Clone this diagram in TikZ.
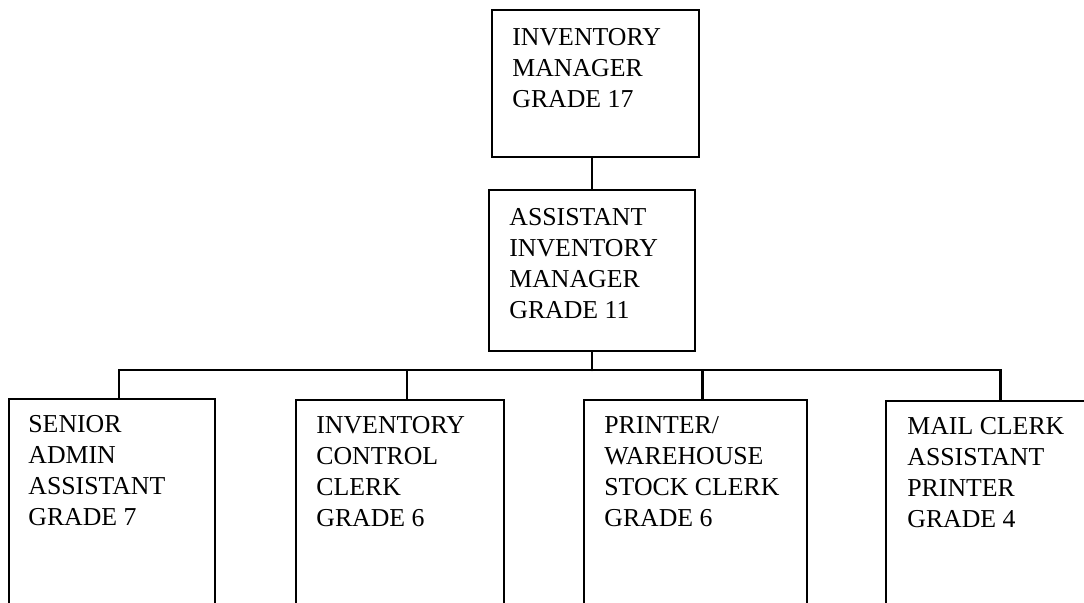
\documentclass[tikz,border=0pt]{standalone}
\usepackage{fontspec}
\setmainfont{Liberation Serif}
\usetikzlibrary{positioning,calc}

\begin{document}
\begin{tikzpicture}[
    x=0.5pt, y=-0.5pt,
    posbox/.style={draw, line width=1.1pt, anchor=north west, inner sep=0pt},
    postext/.style={anchor=north west, inner sep=0pt, align=left,
                    font=\fontsize{12.9}{15.5}\selectfont},
    conn/.style={line width=1.3pt, line cap=round}
]
\clip (0,0) rectangle (1084,602);
% top two levels
\node[posbox, minimum width=103.5pt, minimum height=73.5pt] (mgr) at (491,9) {};
\node[posbox, minimum width=103pt, minimum height=80.5pt] (asst) at (488,189) {};
\node[postext] (mgrtxt) at ($(mgr.north west)+(21,19)$) {INVENTORY\\MANAGER\\GRADE 17};
\node[postext] (assttxt) at ($(asst.north west)+(21,19)$) {ASSISTANT\\INVENTORY\\MANAGER\\GRADE 11};
% bottom level, boxes run off the page
\node[posbox, minimum width=103pt, minimum height=120pt] (admin) at (8,398) {};
\node[posbox, minimum width=104pt, minimum height=120pt] (ctrl) at (295,399) {};
\node[posbox, minimum width=111.5pt, minimum height=120pt] (stock) at (583,399) {};
\node[posbox, minimum width=107.5pt, minimum height=120pt] (mail) at (885,400) {};
\node[postext] (admintxt) at ($(admin.north west)+(20,17)$) {SENIOR\\ADMIN\\ASSISTANT\\GRADE 7};
\node[postext] (ctrltxt) at ($(ctrl.north west)+(21,17)$) {INVENTORY\\CONTROL\\CLERK\\GRADE 6};
\node[postext] (stocktxt) at ($(stock.north west)+(21,17)$) {PRINTER/\\WAREHOUSE\\STOCK CLERK\\GRADE 6};
\node[postext] (mailtxt) at ($(mail.north west)+(22,17)$) {MAIL CLERK\\ASSISTANT\\PRINTER\\GRADE 4};
% connectors
\coordinate (bus) at (asst.south |- 0,370);
\draw[conn] (asst.north |- mgr.south) -- (asst.north);
\draw[conn] (asst.south) -- (bus);
\foreach \n in {admin,ctrl,stock,mail}
  \draw[conn] ($(\n.north)+(7,0)$) |- (bus);
\end{tikzpicture}
\end{document}
